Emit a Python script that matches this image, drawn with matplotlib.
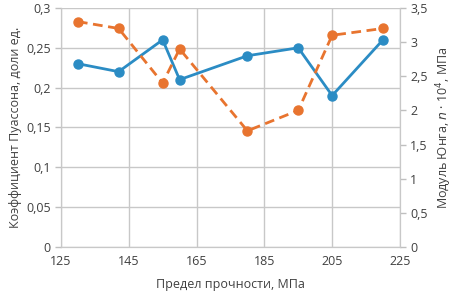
import matplotlib.pyplot as plt
from matplotlib.ticker import FuncFormatter, MultipleLocator

plt.rcParams['font.family'] = ['Open Sans', 'DejaVu Sans']

# предел прочности, МПа
strength = [130, 142, 155, 160, 180, 195, 205, 220]
# коэффициент Пуассона
poisson = [0.23, 0.22, 0.26, 0.21, 0.24, 0.25, 0.19, 0.26]
# модуль Юнга, n*10^4 МПа
young = [3.3, 3.2, 2.4, 2.9, 1.7, 2.0, 3.1, 3.2]
x_ticks = [125, 145, 165, 185, 205, 225]

BLUE = '#2B8CC4'
ORANGE = '#E8742F'
TXT = '#404040'
GRID = '#C8C8C8'


def comma(v, pos):
    return '{:g}'.format(round(v, 4)).replace('.', ',')


fig = plt.figure(figsize=(4.55, 2.95), dpi=100)
ax = fig.add_axes([0.134, 0.163, 0.745, 0.81])
ax2 = ax.twinx()

ax.plot(strength, poisson, color=BLUE, lw=2, marker='o', ms=6.5, zorder=3)
ax2.plot(strength, young, color=ORANGE, lw=2, ls=(0, (3.5, 2)), marker='o', ms=6.5, zorder=3)

ax.set_xlim(125, 225)
ax.set_ylim(0, 0.3)
ax2.set_ylim(0, 3.5)
ax.set_xticks(x_ticks)
ax.yaxis.set_major_locator(MultipleLocator(0.05))
ax2.yaxis.set_major_locator(MultipleLocator(0.5))
ax.yaxis.set_major_formatter(FuncFormatter(comma))
ax2.yaxis.set_major_formatter(FuncFormatter(comma))

ax.grid(True, color=GRID, lw=1)
ax.set_axisbelow(True)

for a in (ax, ax2):
    for s in a.spines.values():
        s.set_color(GRID)
    a.spines['top'].set_visible(False)
    a.tick_params(colors=TXT, labelsize=9, length=4, width=1)
    a.tick_params(axis='both', color='#BFBFBF')
ax.tick_params(axis='x', length=0, pad=6)

ax.set_xlabel('Предел прочности, МПа', color=TXT, fontsize=9, labelpad=7)
ax.set_ylabel('Коэффициент Пуассона, доли ед.', color=TXT, fontsize=9, labelpad=3)
ax2.set_ylabel(r'Модуль Юнга, $n$ · 10$^4$, МПа', color=TXT, fontsize=9, labelpad=5)

fig.savefig('out.png', dpi=100)
